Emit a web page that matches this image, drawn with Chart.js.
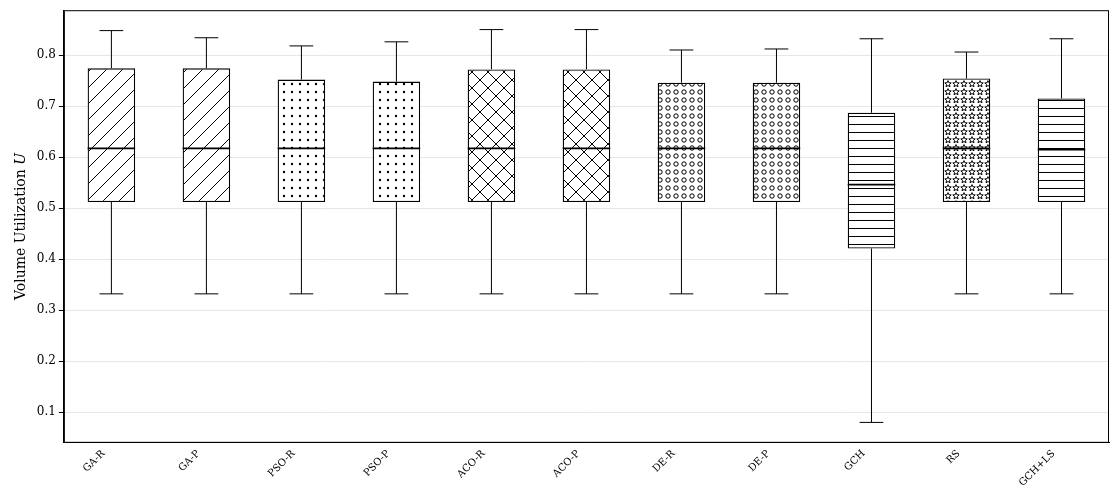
<!DOCTYPE html>
<html>
<head>
<meta charset="utf-8">
<script src="https://cdn.jsdelivr.net/npm/chart.js@4/dist/chart.umd.min.js"></script>
<style>
  html, body { margin: 0; padding: 0; background: #fff; }
  #wrap { width: 1119px; height: 497px; }
</style>
</head>
<body>
<div id="wrap"><canvas id="c"></canvas></div>
<script>
  var LABELS = ['GA-R', 'GA-P', 'PSO-R', 'PSO-P', 'ACO-R', 'ACO-P', 'DE-R', 'DE-P', 'GCH', 'RS', 'GCH+LS'];
  var MINS   = [0.332, 0.332, 0.332, 0.332, 0.332, 0.332, 0.332, 0.332, 0.080, 0.332, 0.332];
  var Q1S    = [0.512, 0.512, 0.512, 0.512, 0.512, 0.512, 0.512, 0.512, 0.421, 0.512, 0.512];
  var MEDS   = [0.617, 0.617, 0.617, 0.617, 0.617, 0.617, 0.617, 0.617, 0.546, 0.617, 0.615];
  var Q3S    = [0.774, 0.774, 0.752, 0.748, 0.772, 0.772, 0.746, 0.746, 0.687, 0.754, 0.715];
  var MAXS   = [0.848, 0.834, 0.818, 0.826, 0.850, 0.850, 0.810, 0.812, 0.832, 0.806, 0.832];
  var HATCH  = ['/', '/', '.', '.', 'x', 'x', 'o', 'o', '-', '*', '-'];

  function starPath(g, cx, cy, r) {
    g.beginPath();
    for (var k = 0; k < 10; k++) {
      var rr = k % 2 ? r * 0.45 : r;
      var a = -Math.PI / 2 + k * Math.PI / 5;
      g.lineTo(cx + rr * Math.cos(a), cy + rr * Math.sin(a));
    }
    g.closePath();
    g.stroke();
  }

  function makePattern(kind) {
    var s = 16, c = document.createElement('canvas');
    c.width = s; c.height = s;
    var g = c.getContext('2d');
    g.fillStyle = '#fff'; g.fillRect(0, 0, s, s);
    g.strokeStyle = '#000'; g.fillStyle = '#000'; g.lineWidth = 1;
    if (kind === '/') {
      g.beginPath();
      g.moveTo(0, s); g.lineTo(s, 0);
      g.moveTo(-s / 2, s / 2); g.lineTo(s / 2, -s / 2);
      g.moveTo(s / 2, s * 1.5); g.lineTo(s * 1.5, s / 2);
      g.stroke();
    } else if (kind === 'x') {
      g.beginPath();
      g.moveTo(0, s); g.lineTo(s, 0);
      g.moveTo(0, 0); g.lineTo(s, s);
      g.stroke();
    } else if (kind === '.') {
      [[4, 4], [12, 12], [12, 4], [4, 12]].forEach(function (p) {
        g.beginPath(); g.arc(p[0], p[1], 1.2, 0, Math.PI * 2); g.fill();
      });
    } else if (kind === 'o') {
      [[4, 4], [12, 12], [12, 4], [4, 12]].forEach(function (p) {
        g.beginPath(); g.arc(p[0], p[1], 2.2, 0, Math.PI * 2); g.stroke();
      });
    } else if (kind === '-') {
      g.beginPath();
      g.moveTo(0, 4.5); g.lineTo(s, 4.5);
      g.moveTo(0, 12.5); g.lineTo(s, 12.5);
      g.stroke();
    } else if (kind === '*') {
      [[4, 4], [12, 4], [4, 12], [12, 12]].forEach(function (p) { starPath(g, p[0], p[1], 3.4); });
    }
    return g.createPattern(c, 'repeat');
  }

  var boxes = LABELS.map(function (l, i) { return [Q1S[i], Q3S[i]]; });

  var whiskerPlugin = {
    id: 'whiskers',
    afterDatasetsDraw: function (chart) {
      var ctx = chart.ctx, y = chart.scales.y;
      var meta = chart.getDatasetMeta(0);
      ctx.save();
      ctx.strokeStyle = '#000';
      meta.data.forEach(function (bar, i) {
        var x = bar.x, hw = bar.width / 2, cap = bar.width / 4;
        ctx.lineWidth = 1;
        ctx.beginPath();
        ctx.moveTo(x, y.getPixelForValue(Q3S[i])); ctx.lineTo(x, y.getPixelForValue(MAXS[i]));
        ctx.moveTo(x, y.getPixelForValue(Q1S[i])); ctx.lineTo(x, y.getPixelForValue(MINS[i]));
        ctx.moveTo(x - cap, y.getPixelForValue(MAXS[i])); ctx.lineTo(x + cap, y.getPixelForValue(MAXS[i]));
        ctx.moveTo(x - cap, y.getPixelForValue(MINS[i])); ctx.lineTo(x + cap, y.getPixelForValue(MINS[i]));
        ctx.stroke();
        ctx.lineWidth = 1.8;
        ctx.beginPath();
        ctx.moveTo(x - hw, y.getPixelForValue(MEDS[i])); ctx.lineTo(x + hw, y.getPixelForValue(MEDS[i]));
        ctx.stroke();
      });
      ctx.restore();
    }
  };

  var frame = {
    id: 'frame',
    afterDraw: function (chart) {
      var a = chart.chartArea, ctx = chart.ctx;
      ctx.save(); ctx.strokeStyle = '#000'; ctx.lineWidth = 1;
      ctx.strokeRect(a.left + 0.5, a.top + 0.5, a.right - a.left - 1, a.bottom - a.top - 1);
      ctx.restore();
    }
  };

  Chart.defaults.font.family = 'DejaVu Serif';
  Chart.defaults.color = '#000';

  new Chart(document.getElementById('c'), {
    type: 'bar',
    data: {
      labels: LABELS,
      datasets: [{
        data: boxes,
        backgroundColor: HATCH.map(makePattern),
        borderColor: '#000',
        borderWidth: 1.3,
        borderSkipped: false,
        barPercentage: 0.5,
        categoryPercentage: 1
      }]
    },
    options: {
      responsive: true,
      maintainAspectRatio: false,
      animation: false,
      layout: { padding: { top: 10, right: 10, left: 9, bottom: 8 } },
      plugins: { legend: { display: false }, tooltip: { enabled: false } },
      scales: {
        x: {
          grid: { display: false, drawTicks: true, tickLength: 5 },
          border: { color: '#000' },
          ticks: { font: { size: 10 }, maxRotation: 45, minRotation: 45, padding: 0, labelOffset: -8 }
        },
        y: {
          min: 0.04, max: 0.888,
          grid: { color: '#e6e6e6', tickLength: 5, drawTicks: true, tickColor: '#000' },
          border: { color: '#000' },
          afterBuildTicks: function (ax) {
            ax.ticks = [0.1, 0.2, 0.3, 0.4, 0.5, 0.6, 0.7, 0.8].map(function (v) { return { value: v }; });
          },
          ticks: { font: { size: 12 }, callback: function (v) { return v.toFixed(1); } },
          title: { display: true, text: 'Volume Utilization 𝑈', font: { size: 14 } }
        }
      }
    },
    plugins: [whiskerPlugin, frame]
  });
</script>
</body>
</html>
